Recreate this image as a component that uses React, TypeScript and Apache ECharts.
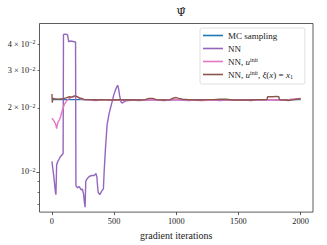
import React, { useEffect, useRef } from 'react';
import * as echarts from 'echarts';

const xTicks = [0, 500, 1000, 1500, 2000];
const yLabelTicks = [0.01, 0.02, 0.03, 0.04];
const yMinorTicks = [0.007, 0.008, 0.009, 0.02, 0.03, 0.04];
const yMajorTicks = [0.01];
const yMin = 0.00645;
const yMax = 0.0501;

const seriesNames = ['MC sampling', 'NN', 'NN, u^init', 'NN, u^init, ξ(x) = x_1'];

const mcIter = [0, 2000];
const mcVal = [0.0219, 0.0219];

const nnIter = [0, 15, 28, 32, 38, 45, 55, 65, 80, 90, 93, 110, 125, 135, 145, 160, 180, 190, 193, 205, 220, 235, 245, 255, 262, 267, 272, 285, 300, 320, 340, 355, 362, 366, 372, 385, 400, 414, 420, 431, 444, 458, 471, 485, 497, 512, 522, 529, 536, 545, 555, 565, 580, 600, 650, 700, 750, 800, 850, 900, 950, 1000, 1050, 1100, 1150, 1200, 1250, 1300, 1350, 1400, 1450, 1500, 1550, 1600, 1650, 1700, 1750, 1800, 1850, 1900, 1950, 2000];
const nnVal = [0.0112, 0.0095, 0.0080, 0.0078, 0.0108, 0.0111, 0.0114, 0.0117, 0.0120, 0.0122, 0.0445, 0.0446, 0.0444, 0.0410, 0.0414, 0.0413, 0.0411, 0.0410, 0.0086, 0.0084, 0.0085, 0.0082, 0.0083, 0.0078, 0.0071, 0.0068, 0.0090, 0.0093, 0.0095, 0.0096, 0.0096, 0.0098, 0.0094, 0.0087, 0.0080, 0.0078, 0.0081, 0.0083, 0.0100, 0.0130, 0.0167, 0.0186, 0.0200, 0.0215, 0.0230, 0.0244, 0.0252, 0.0256, 0.0247, 0.0228, 0.0214, 0.0211, 0.0214, 0.0217, 0.0218, 0.0217, 0.0218, 0.0219, 0.0218, 0.0217, 0.0218, 0.0219, 0.0218, 0.0217, 0.0218, 0.0218, 0.0219, 0.0218, 0.0217, 0.0218, 0.0219, 0.0218, 0.0218, 0.0217, 0.0218, 0.0218, 0.0219, 0.0218, 0.0218, 0.0219, 0.0220, 0.0222];

const initIter = [0, 10, 20, 30, 38, 42, 50, 60, 70, 80, 90, 100, 115, 130, 150, 170, 190, 210, 230, 250, 300, 350, 400, 450, 500, 600, 700, 800, 900, 1000, 1100, 1200, 1300, 1400, 1500, 1600, 1700, 1800, 1900, 2000];
const initVal = [0.0179, 0.0176, 0.0172, 0.0168, 0.0160, 0.0165, 0.0172, 0.0176, 0.0182, 0.0192, 0.0200, 0.0208, 0.0215, 0.0220, 0.0224, 0.0226, 0.0227, 0.0225, 0.0221, 0.0219, 0.0218, 0.0217, 0.0218, 0.0219, 0.0218, 0.0217, 0.0218, 0.0219, 0.0218, 0.0219, 0.0218, 0.0217, 0.0218, 0.0219, 0.0218, 0.0218, 0.0219, 0.0218, 0.0219, 0.0221];

const xiIter = [0, 3, 6, 20, 50, 80, 100, 120, 140, 160, 180, 200, 220, 240, 260, 300, 350, 400, 450, 500, 550, 600, 650, 700, 750, 780, 810, 840, 900, 950, 980, 1000, 1020, 1050, 1100, 1150, 1200, 1250, 1300, 1350, 1400, 1450, 1500, 1550, 1600, 1650, 1700, 1730, 1735, 1780, 1800, 1825, 1830, 1880, 1900, 1950, 2000];
const xiVal = [0.0233, 0.0212, 0.0222, 0.0221, 0.0220, 0.0221, 0.0222, 0.0224, 0.0226, 0.0225, 0.0228, 0.0227, 0.0223, 0.0222, 0.0219, 0.0219, 0.0218, 0.0219, 0.0218, 0.0218, 0.0219, 0.0218, 0.0218, 0.0218, 0.0219, 0.0222, 0.0222, 0.0219, 0.0218, 0.0219, 0.0223, 0.0224, 0.0222, 0.0220, 0.0219, 0.0218, 0.0218, 0.0219, 0.0219, 0.0220, 0.0220, 0.0218, 0.0218, 0.0218, 0.0218, 0.0219, 0.0219, 0.0219, 0.0226, 0.0226, 0.0227, 0.0226, 0.0219, 0.0218, 0.0217, 0.0219, 0.0221];

const colors = ['#1f77b4', '#9467bd', '#e377c2', '#8c564b'];
const FONT = '"Liberation Serif", "DejaVu Serif", serif';
const TXT = '#222';

const lg = Math.log10;
const zipLog = (xs: number[], ys: number[]) => xs.map((x, i) => [x, lg(ys[i])]);

export default function App() {
  const ref = useRef<HTMLDivElement>(null);
  useEffect(() => {
    if (!ref.current) return;
    const chart = echarts.init(ref.current, undefined, { renderer: 'svg' });
    const datasets = [zipLog(mcIter, mcVal), zipLog(nnIter, nnVal), zipLog(initIter, initVal), zipLog(xiIter, xiVal)];
    const yLabel = (v: number) => {
      const k = Math.round(Math.pow(10, v) * 100);
      return k === 1 ? '{r|10}{s|−2}' : `{r|${k} × 10}{s|−2}`;
    };
    const legendFmt = (name: string) => {
      if (name === seriesNames[2]) return '{r|NN, }{i|u}{s|init}';
      if (name === seriesNames[3]) return '{r|NN, }{i|u}{s|init}{r|, }{i|ξ}{r|(}{i|x}{r|) = }{i|x}{b|1}';
      return `{r|${name}}`;
    };
    const yBase = {
      type: 'value', min: lg(yMin), max: lg(yMax), position: 'left',
      axisLine: { show: false, onZero: false }, splitLine: { show: false },
    };
    chart.setOption({
      animation: false,
      title: {
        text: 'Ψ̂',
        left: 176,
        textAlign: 'center',
        top: 2,
        textStyle: { fontFamily: '"DejaVu Serif", serif', fontSize: 11, fontWeight: 'normal', color: TXT },
      },
      grid: {
        left: 39.5, top: 23.5, right: 14, bottom: 30,
        show: true, borderColor: '#333', borderWidth: 0.8, backgroundColor: '#fff',
      },
      legend: {
        orient: 'vertical',
        left: 200, top: 28,
        padding: [2.5, 12, 4.5, 3],
        icon: 'rect',
        itemWidth: 20, itemHeight: 1.6, itemGap: 3,
        backgroundColor: '#fff',
        borderColor: '#d8d8d8', borderWidth: 0.8, borderRadius: 2,
        data: seriesNames,
        formatter: legendFmt,
        textStyle: {
          fontFamily: FONT, fontSize: 9, color: TXT, lineHeight: 10,
          rich: {
            r: { fontFamily: FONT, fontSize: 9, color: TXT, lineHeight: 10 },
            i: { fontFamily: FONT, fontSize: 9, fontStyle: 'italic', color: TXT, lineHeight: 10 },
            s: { fontFamily: FONT, fontSize: 6, color: TXT, verticalAlign: 'top', lineHeight: 10 },
            b: { fontFamily: FONT, fontSize: 6, color: TXT, verticalAlign: 'bottom', lineHeight: 10 },
          },
        },
      },
      xAxis: {
        type: 'value', min: -100, max: 2100,
        name: 'gradient iterations', nameLocation: 'middle', nameGap: 16,
        nameTextStyle: { fontFamily: FONT, fontSize: 10, color: TXT },
        axisLine: { show: false, onZero: false },
        splitLine: { show: false },
        axisTick: { show: true, length: 3, customValues: xTicks, lineStyle: { color: '#333', width: 0.8 } },
        axisLabel: { customValues: xTicks, formatter: (v: number) => String(v), fontFamily: FONT, fontSize: 8.3, color: TXT, margin: 5 },
      },
      yAxis: [
        {
          ...yBase,
          axisTick: { show: true, length: 2, customValues: yMinorTicks.map(lg), lineStyle: { color: '#333', width: 0.7 } },
          axisLabel: {
            customValues: yLabelTicks.map(lg), margin: 4, formatter: yLabel,
            fontFamily: FONT, fontSize: 8.3, color: TXT,
            rich: {
              r: { fontFamily: FONT, fontSize: 8.3, color: TXT },
              s: { fontFamily: FONT, fontSize: 6, color: TXT, verticalAlign: 'top', lineHeight: 10 },
            },
          },
        },
        {
          ...yBase,
          axisTick: { show: true, length: 3.2, customValues: yMajorTicks.map(lg), lineStyle: { color: '#333', width: 0.8 } },
          axisLabel: { show: false },
        },
      ],
      series: seriesNames.map((name, i) => ({
        name, type: 'line', data: datasets[i], yAxisIndex: 0, showSymbol: false, symbol: 'none',
        lineStyle: { color: colors[i], width: 1.4 }, itemStyle: { color: colors[i] },
        z: 2 + i,
      })),
    });
    return () => chart.dispose();
  }, []);
  return <div ref={ref} style={{ position: 'absolute', left: 0, top: 0, width: 327, height: 245 }} />;
}
